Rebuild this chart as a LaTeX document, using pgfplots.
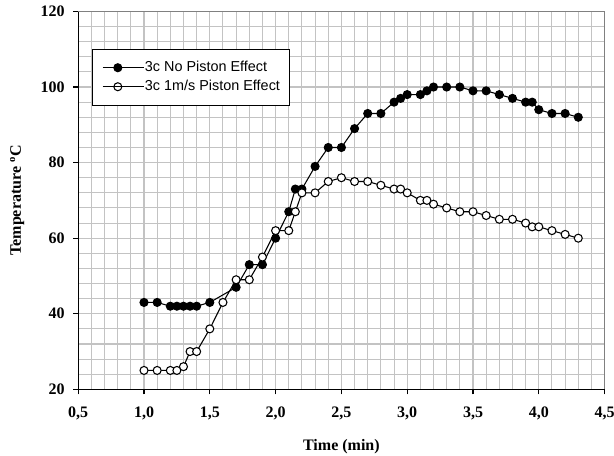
\documentclass[border=0pt]{standalone}
\usepackage{fontspec}
\setmainfont{Liberation Serif}
\newfontfamily\legendfont{Liberation Sans}
\usepackage{pgfplots}
\pgfplotsset{compat=1.18}
\definecolor{gridgray}{RGB}{195,195,195}
\definecolor{framegray}{RGB}{128,128,128}
\begin{document}
\begin{tikzpicture}
\path[use as bounding box] (-58.65pt,-50.0pt) rectangle (401.85pt,292.0pt);
\begin{axis}[
  at={(0pt,0pt)}, anchor=south west,
  scale only axis, width=394.8pt, height=283.4pt,
  xmin=0.5, xmax=4.5, ymin=20, ymax=120,
  xtick={0.5,1.0,1.5,2.0,2.5,3.0,3.5,4.0,4.5},
  ytick={20,40,60,80,100,120},
  minor x tick num=4, minor y tick num=4,
  grid=both,
  major grid style={gridgray, line width=0.8pt},
  minor grid style={gridgray, line width=0.8pt},
  axis x line*=bottom, axis y line*=left,
  axis line style={black, line width=1pt, -},
  tick align=outside, major tick length=3.75pt, minor tick length=0pt,
  tick style={black, line width=0.8pt},
  /pgf/number format/assume math mode=true,
  ticklabel style={font=\fontsize{12}{14}\selectfont\bfseries},
  xticklabel style={yshift=-6pt, /pgf/number format/.cd, use comma, fixed, fixed zerofill, precision=1},
  yticklabel style={xshift=-2.9pt, /pgf/number format/.cd, fixed, precision=0},
  xlabel={Time (min)},
  ylabel={Temperature \textsuperscript{o}C},
  label style={font=\fontsize{12}{14}\selectfont\bfseries},
  xlabel style={at={(axis description cs:0.5,-0.153)}, anchor=center},
  ylabel style={at={(axis description cs:-0.1159,0.5)}, anchor=center},
  legend style={at={(axis cs:0.603,110.1)}, anchor=north west, draw=black, line width=0.8pt,
    fill=white, font=\legendfont\fontsize{10.8}{13}\selectfont, inner xsep=7.5pt, inner ysep=8.5pt,
    row sep=3.75pt, nodes={inner sep=0pt, text height=8pt, text depth=2.5pt}},
  legend cell align=left,
  legend image code/.code={\draw[mark repeat=2,mark phase=2] plot coordinates {(0pt,0pt)(11.25pt,0pt)(22.5pt,0pt)};
    \path (0pt,0pt) -- (31.2pt,0pt);},
  clip=false,
]
\addplot[black, line width=0.8pt, mark=*, mark size=3pt, mark options={fill=black, line width=0.8pt}] coordinates {
(1.0,43) (1.1,43) (1.2,42) (1.25,42) (1.3,42) (1.35,42) (1.4,42) (1.5,43) (1.7,47) (1.8,53) (1.9,53)
(2.0,60) (2.1,67) (2.15,73) (2.2,73) (2.3,79) (2.4,84) (2.5,84) (2.6,89) (2.7,93) (2.8,93) (2.9,96)
(2.95,97) (3.0,98) (3.1,98) (3.15,99) (3.2,100) (3.3,100) (3.4,100) (3.5,99) (3.6,99) (3.7,98)
(3.8,97) (3.9,96) (3.95,96) (4.0,94) (4.1,93) (4.2,93) (4.3,92)
};
\addlegendentry{3c No Piston Effect}
\addplot[black, line width=0.8pt, mark=*, mark size=3pt, mark options={fill=white, line width=0.8pt}] coordinates {
(1.0,25) (1.1,25) (1.2,25) (1.25,25) (1.3,26) (1.35,30) (1.4,30) (1.5,36) (1.6,43) (1.7,49) (1.8,49)
(1.9,55) (2.0,62) (2.1,62) (2.15,67) (2.2,72) (2.3,72) (2.4,75) (2.5,76) (2.6,75) (2.7,75) (2.8,74)
(2.9,73) (2.95,73) (3.0,72) (3.1,70) (3.15,70) (3.2,69) (3.3,68) (3.4,67) (3.5,67) (3.6,66) (3.7,65)
(3.8,65) (3.9,64) (3.95,63) (4.0,63) (4.1,62) (4.2,61) (4.3,60)
};
\addlegendentry{3c 1m/s Piston Effect\hspace{4.5pt}}
\draw[framegray, line width=1.2pt] (rel axis cs:0,1) -- (rel axis cs:1,1) -- (rel axis cs:1,0);
\end{axis}
\end{tikzpicture}
\end{document}
